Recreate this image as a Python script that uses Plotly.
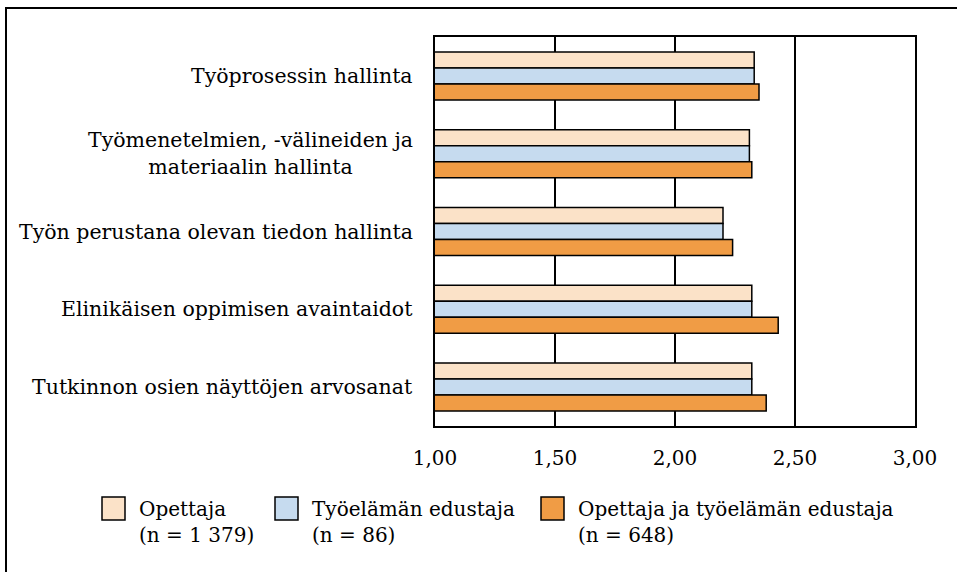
import plotly.graph_objects as go

categories = [
    "Työprosessin hallinta",
    "Työmenetelmien, -välineiden ja<br>materiaalin hallinta",
    "Työn perustana olevan tiedon hallinta",
    "Elinikäisen oppimisen avaintaidot",
    "Tutkinnon osien näyttöjen arvosanat",
]
series_names = [
    "Opettaja<br>(n = 1 379)",
    "Työelämän edustaja<br>(n = 86)",
    "Opettaja ja työelämän edustaja<br>(n = 648)",
]
opettaja = [2.33, 2.31, 2.20, 2.32, 2.32]
tyoelama = [2.33, 2.31, 2.20, 2.32, 2.32]
molemmat = [2.35, 2.32, 2.24, 2.43, 2.38]
tick_vals = [1.0, 1.5, 2.0, 2.5, 3.0]

colors = ["#FBE2C8", "#C6DBEF", "#F09C45"]
FONT = "DejaVu Serif"
FS = 20

W, H = 957, 572
ML, MR, MT, MB = 435, 42, 37, 146
PW, PH = W - ML - MR, H - MT - MB

def px_x(p):
    return (p - ML) / PW

def px_y(p):
    return 1 - (p - MT) / PH

fig = go.Figure()
for name, vals, col in zip(series_names, [opettaja, tyoelama, molemmat], colors):
    fig.add_trace(go.Bar(
        y=categories, x=vals, name=name.replace("<br>", " "), orientation="h",
        marker=dict(color=col, line=dict(color="black", width=1.5)),
        showlegend=False,
    ))

fig.update_layout(
    width=W, height=H,
    margin=dict(l=ML, r=MR, t=MT, b=MB),
    paper_bgcolor="white", plot_bgcolor="white",
    showlegend=False,
    barmode="group", bargap=0.383, bargroupgap=0,
    separators=", ",
    font=dict(family=FONT, size=FS, color="black"),
    xaxis=dict(range=[1, 3], tickvals=tick_vals, tickformat=".2f",
               showgrid=True, gridcolor="black", gridwidth=1.5,
               showline=True, linecolor="black", linewidth=1.5, mirror=True,
               zeroline=False, ticks="", ticklabelstandoff=13,
               tickfont=dict(family=FONT, size=FS)),
    yaxis=dict(categoryorder="array", categoryarray=categories, autorange="reversed",
               showline=True, linecolor="black", linewidth=1.5, mirror=True,
               showticklabels=False, ticks="", showgrid=False),
)

# category labels (centered multi-line, right edge next to the plot)
for c in categories:
    fig.add_annotation(x=0, y=c, xref="paper", yref="y", text=c, showarrow=False,
                       xanchor="right", yanchor="middle", align="center", xshift=-20,
                       font=dict(family=FONT, size=20.5, color="black"))

# legend (swatch + two-line label)
box_left = [102, 275, 541]
text_left = [137, 310, 576]
for name, col, bx, tx in zip(series_names, colors, box_left, text_left):
    fig.add_shape(type="rect", xref="paper", yref="paper",
                  x0=px_x(bx), x1=px_x(bx + 23), y0=px_y(520), y1=px_y(497),
                  line=dict(color="black", width=1.5), fillcolor=col)
    fig.add_annotation(x=px_x(tx), y=px_y(495), xref="paper", yref="paper",
                       text=name, showarrow=False, xanchor="left", yanchor="top",
                       align="left", font=dict(family=FONT, size=FS, color="black"))

# outer frame
fig.add_shape(type="rect", xref="paper", yref="paper",
              x0=px_x(6), x1=px_x(W + 20), y0=px_y(H + 20), y1=px_y(8),
              line=dict(color="black", width=2), fillcolor="rgba(0,0,0,0)", layer="above")

fig.write_html("out.html", config={"displayModeBar": False},
               post_script="document.body.style.margin='0';")
